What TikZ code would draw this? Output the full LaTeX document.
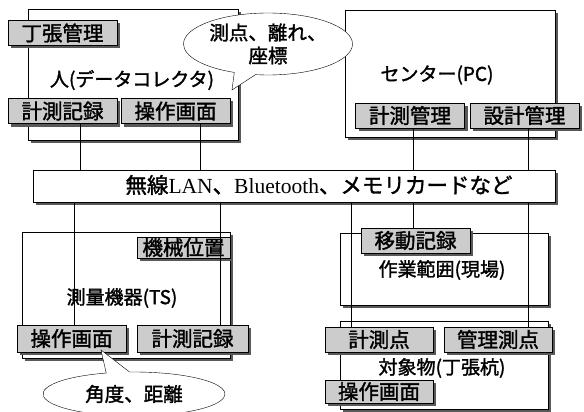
\documentclass[tikz,border=0pt]{standalone}
\usepackage{fontspec}
\setmainfont{Noto Sans CJK JP}
\newfontfamily\gothic{Noto Sans CJK JP}[FakeBold=1.6]
\newfontfamily\latfont{Liberation Serif}
\usetikzlibrary{shadows,shapes.callouts}

\tikzset{
  unit/.style={draw, thin, fill=white, inner sep=0pt,
    drop shadow={shadow xshift=3pt, shadow yshift=-3pt, fill=black!65, opacity=1}},
  tag/.style={draw, thin, fill=black!20, inner sep=0pt,
    minimum width=109pt, minimum height=25pt,
    font=\gothic\fontsize{20.5}{20.5}\selectfont,
    drop shadow={shadow xshift=3pt, shadow yshift=-3pt, fill=black!65, opacity=1}},
  title/.style={font=\gothic\fontsize{19}{19}\selectfont},
  say/.style={ellipse callout, draw, thin, fill=white, inner sep=0pt,
    align=center, font=\gothic\fontsize{19.5}{23}\selectfont},
  link/.style={thin}
}

\begin{document}
\begin{tikzpicture}[x=1pt, y=-1pt]
        \useasboundingbox (0,0) rectangle (584,412);

        % units
        \node[unit, minimum width=210pt, minimum height=131pt] (dc) at (133,74.5) {};
        \node[unit, minimum width=210pt, minimum height=127pt] (pc) at (450,73.5) {};
        \node[unit, minimum width=522pt, minimum height=32pt] (net) at (294,186) {};
        \node[unit, minimum width=208pt, minimum height=126pt] (ts) at (126,295) {};
        \node[unit, minimum width=208pt, minimum height=72pt] (site) at (444,269) {};
        \node[unit, minimum width=208pt, minimum height=88pt] (obj) at (444,365) {};

        \node[title] (dcName) at (132,80) {人(データコレクタ)};
        \node[title] (pcName) at (437,75) {センター(PC)};
        \node[title] (tsName) at (122,298) {測量機器(TS)};
        \node[title] (siteName) at (442,270) {作業範囲(現場)};
        \node[title] (objName) at (442,368) {対象物(丁張杭)};
        \node[font=\gothic\fontsize{21.5}{21.5}\selectfont] (netName) at (319,185)
          {無線{\latfont LAN}、{\latfont Bluetooth}、メモリカードなど};

        % tags
        \node[tag] (dcStake) at (62.5,33) {丁張管理};
        \node[tag] (dcRec) at (62.5,111) {計測記録};
        \node[tag] (dcOp) at (175.5,111) {操作画面};
        \node[tag] (pcMeas) at (410,115.5) {計測管理};
        \node[tag] (pcDes) at (524.5,115.5) {設計管理};
        \node[tag, minimum width=93pt, minimum height=21pt] (tsPos) at (183.5,247.5) {機械位置};
        \node[tag, minimum height=27pt] (tsOp) at (71.5,338.5) {操作画面};
        \node[tag, minimum height=27pt, minimum width=111pt] (tsRec) at (192.5,338.5) {計測記録};
        \node[tag] (siteMove) at (415.5,240.5) {移動記録};
        \node[tag, minimum width=108pt] (objPt) at (379,339.5) {計測点};
        \node[tag, minimum width=108pt] (objCtl) at (498,339.5) {管理測点};
        \node[tag, minimum width=108pt, minimum height=23pt] (objOp) at (379,391.5) {操作画面};

        % links to the network
        \draw[link] ([xshift=17.5pt]dcRec.south) -- ([xshift=17.5pt]dcRec.south |- net.north);
        \draw[link] ([xshift=24.5pt]dcOp.south) -- ([xshift=24.5pt]dcOp.south |- net.north);
        \draw[link] ([xshift=3pt]pcMeas.south) -- ([xshift=3pt]pcMeas.south |- net.north);
        \draw[link] ([xshift=3.5pt]pcDes.south) -- ([xshift=3.5pt]pcDes.south |- net.north);
        \draw[link] ([xshift=2.5pt]tsOp.north) -- ([xshift=2.5pt]tsOp.north |- net.south);
        \draw[link] ([xshift=27.5pt]tsRec.north) -- ([xshift=27.5pt]tsRec.north |- net.south);
        \draw[link] ([xshift=-28pt]objPt.north) -- ([xshift=-28pt]objPt.north |- net.south);
        \draw[link] ([xshift=-2.5pt]siteMove.north) -- ([xshift=-2.5pt]siteMove.north |- net.south);
        \draw[link] ([xshift=30pt]objCtl.north) -- ([xshift=30pt]objCtl.north |- net.south);

        % callouts
        \node[say, minimum width=169pt, minimum height=62pt,
          callout absolute pointer={(232,90)}] (dcSay) at (268,44) {測点、離れ、\\座標};
        \node[say, minimum width=182pt, minimum height=44pt,
          callout absolute pointer={(101,350)}] (tsSay) at (134,394) {角度、距離};
\end{tikzpicture}
\end{document}
